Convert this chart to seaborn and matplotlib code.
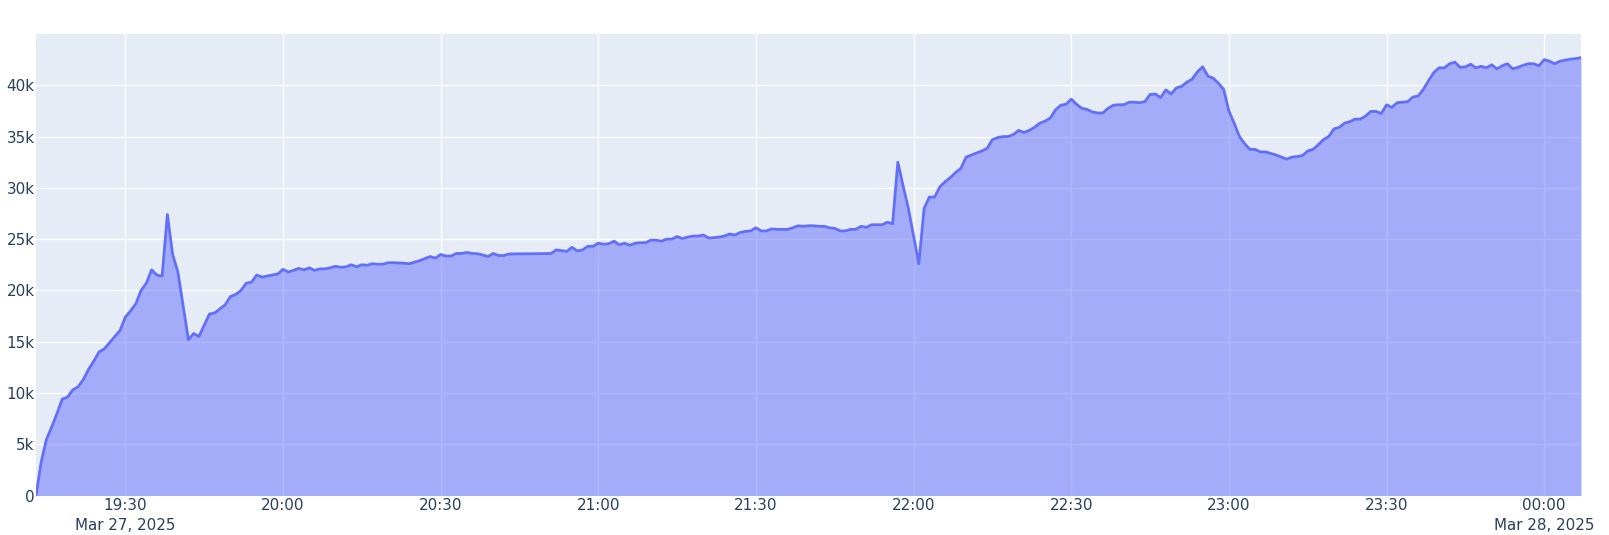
import numpy as np
import pandas as pd
import matplotlib
matplotlib.use("Agg")
import matplotlib.pyplot as plt
import matplotlib.dates as mdates
import seaborn as sns

# one reading per minute, starting 19:13 on Mar 27 2025 (values in thousands)
start_time = "2025-03-27 19:13"
tokens_k = [
    0, 3.3, 5.5, 6.7, 8.0, 9.4, 9.6, 10.3, 10.6, 11.3,
    12.3, 13.1, 14.0, 14.3, 14.9, 15.5, 16.1, 17.4, 18.0, 18.7,
    20.0, 20.7, 22.0, 21.5, 21.4, 27.4, 23.5, 21.8, 18.5, 15.2,
    15.8, 15.5, 16.6, 17.7, 17.8, 18.2, 18.6, 19.4, 19.6, 20.0,
    20.7, 20.8, 21.5, 21.3, 21.4, 21.5, 21.6, 22.05, 21.8, 21.95,
    22.15, 22.0, 22.2, 21.95, 22.1, 22.1, 22.2, 22.35, 22.25, 22.3,
    22.5, 22.3, 22.5, 22.45, 22.6, 22.55, 22.55, 22.7, 22.7, 22.68,
    22.65, 22.6, 22.75, 22.9, 23.1, 23.3, 23.15, 23.5, 23.35, 23.35,
    23.6, 23.6, 23.7, 23.6, 23.58, 23.45, 23.3, 23.6, 23.4, 23.4,
    23.55, 23.56, 23.56, 23.57, 23.57, 23.58, 23.58, 23.59, 23.6, 23.95,
    23.88, 23.8, 24.2, 23.85, 23.95, 24.3, 24.3, 24.6, 24.5, 24.55,
    24.8, 24.45, 24.6, 24.4, 24.6, 24.65, 24.65, 24.9, 24.9, 24.8,
    25.0, 25.0, 25.25, 25.05, 25.2, 25.3, 25.3, 25.4, 25.1, 25.15,
    25.2, 25.3, 25.5, 25.4, 25.65, 25.75, 25.8, 26.1, 25.8, 25.8,
    26.0, 25.95, 25.95, 25.95, 26.1, 26.3, 26.25, 26.3, 26.3, 26.25,
    26.25, 26.1, 26.05, 25.8, 25.8, 25.95, 25.95, 26.25, 26.15, 26.4,
    26.4, 26.4, 26.65, 26.5, 32.5, 30.2, 28.0, 25.3, 22.6, 28.0,
    29.1, 29.1, 30.1, 30.6, 31.0, 31.5, 31.9, 33.0, 33.2, 33.4,
    33.6, 33.85, 34.7, 34.9, 35.0, 35.0, 35.2, 35.6, 35.4, 35.6,
    35.9, 36.3, 36.5, 36.8, 37.6, 38.05, 38.15, 38.65, 38.15, 37.75,
    37.65, 37.4, 37.3, 37.3, 37.75, 38.05, 38.1, 38.1, 38.35, 38.35,
    38.3, 38.4, 39.1, 39.15, 38.8, 39.55, 39.15, 39.75, 39.9, 40.3,
    40.6, 41.3, 41.8, 40.9, 40.7, 40.2, 39.6, 37.5, 36.3, 35.0,
    34.3, 33.75, 33.75, 33.5, 33.5, 33.35, 33.2, 33.0, 32.8, 33.0,
    33.05, 33.15, 33.6, 33.75, 34.2, 34.7, 35.0, 35.75, 35.9, 36.3,
    36.45, 36.7, 36.7, 37.0, 37.45, 37.45, 37.25, 38.1, 37.85, 38.3,
    38.35, 38.4, 38.85, 38.95, 39.6, 40.45, 41.25, 41.7, 41.7, 42.1,
    42.25, 41.75, 41.8, 42.05, 41.7, 41.85, 41.7, 42.0, 41.6, 41.9,
    42.1, 41.6, 41.75, 41.95, 42.1, 42.1, 41.9, 42.5, 42.35, 42.1,
    42.35, 42.45, 42.55, 42.6, 42.7,
]

tick_times = ["19:30", "20:00", "20:30", "21:00", "21:30", "22:00",
              "22:30", "23:00", "23:30", "00:00"]
tick_dates = ["2025-03-27"] * 9 + ["2025-03-28"]
tick_labels = ["19:30\nMar 27, 2025", "20:00", "20:30", "21:00", "21:30",
               "22:00", "22:30", "23:00", "23:30", "00:00\nMar 28, 2025"]
y_ticks = [0, 5000, 10000, 15000, 20000, 25000, 30000, 35000, 40000]
y_labels = ["0", "5k", "10k", "15k", "20k", "25k", "30k", "35k", "40k"]

times = pd.date_range(start_time, periods=len(tokens_k), freq="min")
df = pd.DataFrame({"time": times, "tokens": np.array(tokens_k) * 1000})

sns.set_theme(style="darkgrid", rc={
    "axes.facecolor": "#E5ECF6",
    "grid.color": "white",
    "grid.linewidth": 1.0,
})
plt.rcParams["font.family"] = ["DejaVu Sans"]

W, H = 1609, 535
fig = plt.figure(figsize=(W / 100, H / 100), dpi=100)
fig.patch.set_facecolor("white")
ax = fig.add_axes([36 / W, 1 - 495.5 / H, (1581 - 36) / W, (495.5 - 34) / H])

ax.fill_between(df["time"], df["tokens"], 0, color="#636EFA", alpha=0.5,
                linewidth=0, zorder=2)
sns.lineplot(data=df, x="time", y="tokens", ax=ax, color="#636EFA",
             linewidth=2.0, zorder=3)

ax.set_xlim(times[0], times[-1])
ax.set_ylim(0, 45000)

xt = [mdates.date2num(pd.Timestamp(d + " " + t)) for d, t in zip(tick_dates, tick_times)]
ax.set_xticks(xt)
ax.set_xticklabels(tick_labels, linespacing=1.38)
ax.set_yticks(y_ticks)
ax.set_yticklabels(y_labels)

ax.tick_params(axis="x", length=0, pad=2, labelsize=10.9, labelcolor="#2a3f5f")
ax.tick_params(axis="y", length=0, pad=1, labelsize=10.9, labelcolor="#2a3f5f")
ax.set_xlabel("")
ax.set_ylabel("")
for s in ax.spines.values():
    s.set_visible(False)

fig.savefig("out.png", dpi=100)
